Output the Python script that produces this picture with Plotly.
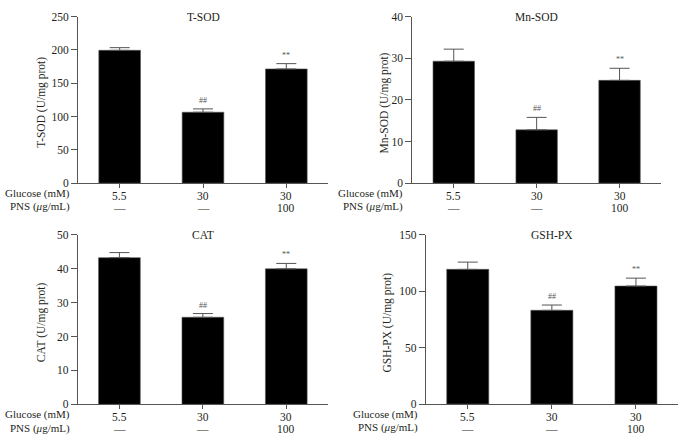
import plotly.graph_objects as go

glucose = ["5.5", "30", "30"]
pns = ["—", "—", "100"]
panels = ["T-SOD", "Mn-SOD", "CAT", "GSH-PX"]
tsod = [199.5, 106.5, 171.5]
tsod_err = [4, 5, 8]
mnsod = [29.3, 12.8, 24.7]
mnsod_err = [2.9, 3.0, 2.9]
cat = [43.3, 25.7, 40.0]
cat_err = [1.5, 1.1, 1.6]
gshpx = [119.3, 83.0, 104.5]
gshpx_err = [6.4, 4.7, 7.0]
marks = ["", "##", "**"]
yranges = [250, 40, 50, 150]
ydticks = [50, 10, 10, 50]

W, H = 686, 447
# pixel boxes: (left, right, top, bottom)
boxes = [(78, 328, 11, 182), (412.3, 661, 11, 182),
         (77.7, 328, 235.3, 409.3), (425.7, 678, 235, 409)]
ytitle_x = [42, 384.7, 41.7, 387.3]
rowlabel_right = [72, 405, 72, 420]

values = [tsod, mnsod, cat, gshpx]
errs = [tsod_err, mnsod_err, cat_err, gshpx_err]

FONT = "Liberation Serif"
TXT = "#231f20"
FS = 11.5
fig = go.Figure()
layout = dict(width=W, height=H, margin=dict(l=0, r=0, t=0, b=0),
              paper_bgcolor="white", plot_bgcolor="white", showlegend=False,
              font=dict(family=FONT, size=FS, color=TXT))
annotations = []
for i in range(4):
    xa = "x" if i == 0 else f"x{i+1}"
    ya = "y" if i == 0 else f"y{i+1}"
    l, r, t, b = boxes[i]
    fig.add_trace(go.Bar(
        x=[0, 1, 2], y=values[i], width=0.5, xaxis=xa, yaxis=ya,
        marker=dict(color="black", line=dict(color="#555", width=0.6)),
        error_y=dict(type="data", array=errs[i], arrayminus=[0, 0, 0], symmetric=False,
                     color="#555", thickness=1, width=10)))
    xkey = "xaxis" if i == 0 else f"xaxis{i+1}"
    ykey = "yaxis" if i == 0 else f"yaxis{i+1}"
    layout[xkey] = dict(domain=[l / W, r / W], anchor=ya, range=[-0.5, 2.5],
                        tickvals=[0, 1, 2], showticklabels=False, ticks="outside", ticklen=4,
                        tickcolor="#555", showline=True, linecolor="#555", linewidth=1,
                        showgrid=False, zeroline=False, fixedrange=True)
    layout[ykey] = dict(domain=[(H - b) / H, (H - t) / H], anchor=xa,
                        range=[0, yranges[i]], dtick=ydticks[i], ticks="outside", ticklen=6,
                        tickcolor="#555", showline=True, linecolor="#555", linewidth=1,
                        showgrid=False, zeroline=False, fixedrange=True,
                        tickfont=dict(size=FS, color=TXT))
    # panel title
    annotations.append(dict(text=panels[i], x=(l + r) / 2 / W, y=(H - t) / H, xref="paper",
                            yref="paper", showarrow=False, xanchor="center", yanchor="middle",
                            font=dict(size=FS, color=TXT)))
    # y title
    annotations.append(dict(text=f"{panels[i]} (U/mg prot)", x=ytitle_x[i] / W,
                            y=(H - (t + b) / 2 - 3) / H, xref="paper", yref="paper",
                            showarrow=False, textangle=-90, xanchor="center", yanchor="middle",
                            font=dict(size=FS, color=TXT)))
    # row labels
    annotations.append(dict(text="Glucose (mM)", x=rowlabel_right[i] / W, y=(H - b - 10.5) / H,
                            xref="paper", yref="paper", showarrow=False, xanchor="right",
                            yanchor="middle", font=dict(size=11, color=TXT)))
    annotations.append(dict(text="PNS (<i>μ</i>g/mL)", x=rowlabel_right[i] / W,
                            y=(H - b - 24.5) / H, xref="paper", yref="paper", showarrow=False,
                            xanchor="right", yanchor="middle", font=dict(size=11, color=TXT)))
    # category labels
    for j in range(3):
        annotations.append(dict(text=glucose[j], x=j, y=(H - b - 13) / H, xref=xa,
                                yref="paper", showarrow=False, xanchor="center",
                                yanchor="middle", font=dict(size=FS, color=TXT)))
        annotations.append(dict(text=pns[j], x=j, y=(H - b - 25.5) / H, xref=xa,
                                yref="paper", showarrow=False, xanchor="center",
                                yanchor="middle", font=dict(size=FS, color=TXT)))
    # significance marks
    for j in range(3):
        if marks[j]:
            annotations.append(dict(text=marks[j], x=j, y=values[i][j] + errs[i][j],
                                    xref=xa, yref=ya, showarrow=False, yanchor="bottom",
                                    yshift=2, font=dict(size=8, color="#555")))

layout["annotations"] = annotations
fig.update_layout(**layout)
fig.write_html("out.html", config={"displayModeBar": False},
               post_script="document.body.style.margin='0';")
